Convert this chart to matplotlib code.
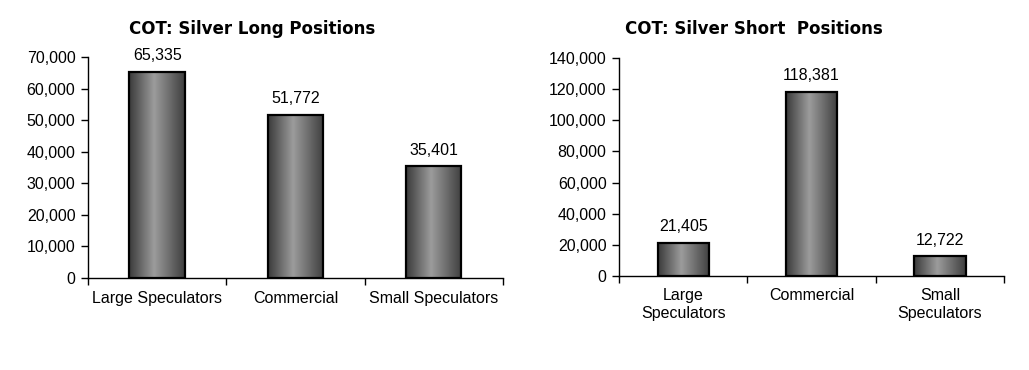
import matplotlib
matplotlib.use('Agg')
import matplotlib.pyplot as plt
import numpy as np
from matplotlib.colors import LinearSegmentedColormap
from matplotlib.ticker import FuncFormatter

## DATEN
long_cats = ['Large Speculators', 'Commercial', 'Small Speculators']
long_vals = [65335, 51772, 35401]
short_cats = ['Large\nSpeculators', 'Commercial', 'Small\nSpeculators']
short_vals = [21405, 118381, 12722]

long_title = 'COT: Silver Long Positions'
short_title = 'COT: Silver Short  Positions'

plt.rcParams['font.family'] = ['Liberation Sans', 'DejaVu Sans']

grad = LinearSegmentedColormap.from_list(
  'bar', [(0, '#3a3a3a'), (0.45, '#9c9c9c'), (1, '#3e3e3e')])


def draw_panel(ax, cats, vals, ymax, ystep):
  x = np.arange(len(cats))
  bars = ax.bar(x, vals, width=0.4, color='none', edgecolor='black',
                linewidth=1.6, zorder=3)
  g = np.linspace(0, 1, 256).reshape(1, -1)
  for b in bars:
    x0, w, h = b.get_x(), b.get_width(), b.get_height()
    im = ax.imshow(g, cmap=grad, extent=[x0, x0 + w, 0, h], aspect='auto',
                   zorder=2, interpolation='bilinear')
    im.set_clip_path(b)
  for xi, v in zip(x, vals):
    ax.annotate(f'{v:,}', (xi, v), xytext=(0, 6), textcoords='offset points',
                ha='center', va='bottom', fontsize=11.5)
  ax.set_xlim(-0.5, len(cats) - 0.5)
  ax.set_ylim(0, ymax)
  ax.set_yticks(np.arange(0, ymax + 1, ystep))
  ax.yaxis.set_major_formatter(FuncFormatter(lambda v, p: f'{int(v):,}'))
  ax.set_xticks(np.arange(len(cats) + 1) - 0.5)
  ax.set_xticklabels([])
  ax.set_xticks(x, minor=True)
  ax.set_xticklabels(cats, minor=True, fontsize=11.5)
  ax.tick_params(axis='x', which='minor', length=0, pad=9)
  ax.tick_params(axis='x', which='major', length=5, width=1, direction='out')
  ax.tick_params(axis='y', length=5, width=1, direction='out', labelsize=11.5, pad=4)
  ax.spines['top'].set_visible(False)
  ax.spines['right'].set_visible(False)
  for s in ['left', 'bottom']:
    ax.spines[s].set_linewidth(1)


fig = plt.figure(figsize=(10.29, 3.70), dpi=100)
ax1 = fig.add_axes([0.0855, 0.2486, 0.4033, 0.5973])
ax2 = fig.add_axes([0.6016, 0.2541, 0.3741, 0.5892])

draw_panel(ax1, long_cats, long_vals, 70000, 10000)
draw_panel(ax2, short_cats, short_vals, 140000, 20000)

fig.text(0.2449, 0.921, long_title, ha='center', va='center',
         fontsize=12, fontweight='bold', family='DejaVu Sans')
fig.text(0.7328, 0.921, short_title, ha='center', va='center',
         fontsize=12, fontweight='bold', family='DejaVu Sans')

fig.savefig('out.png', dpi=100)
